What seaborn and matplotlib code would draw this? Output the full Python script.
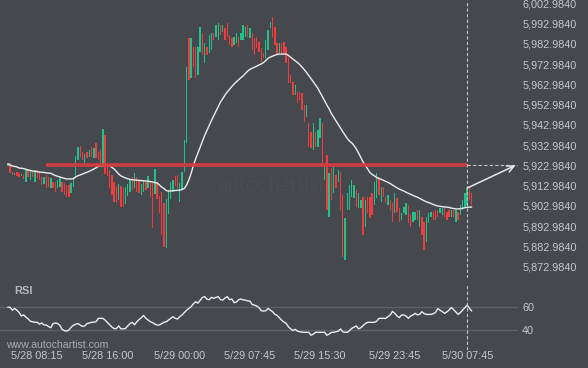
import numpy as np
import pandas as pd
import matplotlib
matplotlib.use("Agg")
import matplotlib.pyplot as plt
import seaborn as sns

# ---------------- data ----------------
opens = [
    5922.7, 5924.2, 5919.7, 5918.2, 5919.7, 5919.2, 5917.8, 5918.2, 5914.8, 5920.7,
    5915.8, 5920.2, 5914.8, 5920.7, 5920.2, 5917.3, 5913.8, 5918.2, 5917.3, 5911.8,
    5914.8, 5914.8, 5911.8, 5912.3, 5914.8, 5914.3, 5913.3, 5913.3, 5909.4, 5912.3,
    5916.8, 5925.7, 5932.6, 5929.6, 5924.2, 5929.6, 5927.1, 5932.1, 5926.6, 5934.1,
    5929.6, 5930.6, 5922.2, 5938.0, 5923.2, 5920.7, 5918.2, 5914.8, 5912.8, 5905.9,
    5912.8, 5911.8, 5903.9, 5907.9, 5909.9, 5917.3, 5911.8, 5917.3, 5915.8, 5908.4,
    5909.9, 5914.8, 5911.8, 5914.8, 5914.3, 5908.9, 5914.8, 5907.9, 5909.9, 5904.4,
    5882.2, 5899.0, 5906.4, 5909.9, 5917.8, 5918.2, 5904.9, 5910.8, 5919.7, 5934.1,
    5985.9, 5966.2, 5981.5, 5981.5, 5967.6, 5979.0, 5988.4, 5973.6, 5981.5, 5978.5,
    5980.0, 5988.4, 5986.4, 5984.9, 5992.4, 5988.9, 5990.9, 5993.3, 5987.4, 5985.9,
    5982.5, 5983.5, 5986.4, 5984.9, 5984.9, 5986.4, 5992.4, 5985.9, 5988.4, 5985.9,
    5986.4, 5983.9, 5981.0, 5978.5, 5976.0, 5980.0, 5990.9, 5996.3, 5991.4, 5983.5,
    5978.5, 5983.5, 5983.9, 5981.5, 5976.0, 5967.6, 5964.2, 5957.8, 5959.3, 5959.3,
    5958.8, 5952.8, 5946.9, 5943.9, 5939.5, 5930.6, 5939.5, 5932.1, 5936.5, 5943.9,
    5915.8, 5928.1, 5897.5, 5921.7, 5909.4, 5918.2, 5914.8, 5919.7, 5908.4, 5876.3,
    5901.0, 5901.0, 5907.4, 5906.9, 5910.8, 5902.0, 5902.0, 5907.4, 5892.6, 5907.4,
    5907.4, 5909.4, 5903.4, 5906.9, 5917.3, 5904.9, 5912.3, 5907.4, 5903.4, 5905.9,
    5904.4, 5899.5, 5906.9, 5902.0, 5896.0, 5899.5, 5898.5, 5903.4, 5898.5, 5895.0,
    5896.0, 5901.0, 5892.6, 5897.5, 5895.0, 5885.1, 5894.5, 5897.5, 5900.0, 5901.0,
    5901.0, 5899.5, 5898.5, 5902.4, 5900.0, 5901.0, 5897.5, 5901.0, 5895.0, 5900.0,
    5898.5, 5901.0, 5902.4, 5903.4, 5911.8, 5909.4,
]
closes = [
    5924.2, 5919.2, 5918.2, 5919.2, 5917.8, 5917.3, 5918.7, 5916.3, 5920.7, 5917.3,
    5920.7, 5917.3, 5920.7, 5916.8, 5915.8, 5913.3, 5917.3, 5911.8, 5912.3, 5916.8,
    5911.8, 5909.9, 5915.8, 5916.8, 5909.9, 5908.4, 5907.4, 5907.4, 5914.3, 5917.3,
    5927.6, 5932.1, 5927.1, 5925.7, 5928.6, 5926.6, 5930.6, 5927.1, 5931.6, 5926.6,
    5925.7, 5924.2, 5941.0, 5918.7, 5917.8, 5911.8, 5908.4, 5904.9, 5904.4, 5913.8,
    5902.4, 5902.4, 5912.3, 5913.8, 5916.3, 5910.8, 5919.2, 5909.9, 5909.4, 5913.8,
    5915.3, 5910.8, 5917.8, 5907.4, 5892.1, 5921.2, 5906.4, 5899.5, 5888.6, 5882.7,
    5906.4, 5910.8, 5914.8, 5915.8, 5912.8, 5911.8, 5914.3, 5919.7, 5935.5, 5971.6,
    5965.2, 5985.9, 5971.6, 5966.2, 5981.5, 5991.4, 5977.5, 5983.5, 5977.5, 5987.4,
    5988.4, 5984.9, 5992.4, 5993.3, 5987.4, 5992.4, 5984.9, 5986.4, 5982.5, 5981.5,
    5986.4, 5988.4, 5981.5, 5988.4, 5992.4, 5991.4, 5986.4, 5990.9, 5980.0, 5977.5,
    5981.0, 5979.0, 5974.1, 5976.0, 5984.9, 5989.9, 5993.8, 5986.4, 5982.5, 5977.5,
    5983.5, 5978.5, 5978.5, 5973.6, 5963.7, 5963.7, 5957.8, 5962.7, 5953.8, 5955.3,
    5950.4, 5944.4, 5952.8, 5932.1, 5931.6, 5943.9, 5932.1, 5940.5, 5946.4, 5922.2,
    5922.2, 5901.0, 5919.2, 5905.9, 5922.2, 5911.8, 5920.7, 5901.0, 5877.7, 5897.0,
    5909.4, 5913.3, 5915.8, 5913.3, 5902.4, 5909.4, 5905.9, 5888.6, 5905.9, 5899.5,
    5897.0, 5898.5, 5914.8, 5919.2, 5908.4, 5912.3, 5907.4, 5904.4, 5908.4, 5901.0,
    5895.0, 5909.4, 5900.0, 5895.0, 5899.5, 5902.4, 5904.4, 5894.5, 5892.6, 5900.0,
    5900.0, 5896.0, 5901.0, 5888.6, 5881.2, 5897.5, 5899.5, 5900.0, 5896.0, 5896.0,
    5897.5, 5902.0, 5902.0, 5897.5, 5896.0, 5897.5, 5901.0, 5897.5, 5901.0, 5896.0,
    5903.4, 5905.9, 5909.4, 5911.8, 5905.9, 5903.4,
]
moving_avg = [
    5923.7, 5923.2, 5922.7, 5922.5, 5922.2, 5921.7, 5921.6, 5921.4, 5921.1, 5920.7,
    5920.5, 5920.2, 5920.1, 5919.9, 5919.7, 5919.6, 5919.5, 5919.3, 5919.2, 5919.1,
    5918.5, 5918.0, 5917.6, 5917.3, 5916.9, 5916.6, 5916.3, 5916.3, 5916.3, 5916.4,
    5917.3, 5917.9, 5918.3, 5918.7, 5919.2, 5919.6, 5920.1, 5920.6, 5921.2, 5921.8,
    5922.5, 5922.7, 5922.9, 5923.1, 5923.2, 5922.7, 5922.0, 5921.2, 5920.0, 5918.7,
    5917.8, 5917.3, 5916.8, 5916.4, 5916.1, 5915.9, 5915.8, 5915.7, 5915.6, 5915.5,
    5915.4, 5915.3, 5915.2, 5915.0, 5914.8, 5914.5, 5914.3, 5913.3, 5912.3, 5911.6,
    5910.6, 5910.3, 5910.4, 5910.5, 5910.6, 5910.7, 5910.8, 5911.1, 5911.6, 5913.3,
    5915.8, 5919.0, 5923.0, 5926.2, 5929.1, 5932.1, 5934.8, 5937.8, 5940.3, 5942.7,
    5945.2, 5947.5, 5949.9, 5952.2, 5954.3, 5956.0, 5957.8, 5959.3, 5960.6, 5962.0,
    5963.2, 5964.3, 5965.3, 5966.3, 5967.2, 5968.4, 5969.6, 5970.4, 5971.0, 5971.5,
    5972.0, 5972.6, 5973.1, 5973.8, 5974.8, 5975.9, 5976.5, 5977.0, 5977.4, 5977.8,
    5978.0, 5978.0, 5978.0, 5978.0, 5977.3, 5976.4, 5975.5, 5974.7, 5973.8, 5972.8,
    5971.6, 5970.3, 5968.9, 5967.4, 5965.8, 5964.3, 5962.7, 5961.1, 5959.0, 5956.8,
    5954.8, 5952.8, 5950.9, 5948.6, 5946.8, 5944.9, 5943.2, 5941.5, 5939.7, 5938.0,
    5936.3, 5935.0, 5934.1, 5932.8, 5931.1, 5929.1, 5926.9, 5924.7, 5923.0, 5921.2,
    5919.5, 5918.5, 5917.8, 5917.0, 5916.5, 5916.1, 5915.6, 5915.1, 5914.6, 5914.0,
    5913.3, 5912.6, 5911.9, 5911.3, 5910.8, 5910.3, 5909.7, 5909.2, 5908.7, 5908.2,
    5907.7, 5907.3, 5906.7, 5906.1, 5905.5, 5905.0, 5904.6, 5904.2, 5903.7, 5903.3,
    5902.9, 5902.8, 5902.6, 5902.5, 5902.4, 5902.2, 5901.9, 5901.7, 5901.5, 5901.5,
    5901.6, 5901.8, 5902.1, 5902.3, 5902.4, 5902.4,
]
rsi = [
    59.5, 59.5, 57.0, 58.5, 57.0, 55.0, 52.0, 53.0, 51.0, 49.5,
    47.5, 47.0, 46.6, 46.6, 45.0, 46.0, 44.3, 44.3, 43.0, 42.0,
    45.5, 46.0, 45.5, 44.0, 40.5, 39.5, 39.0, 40.0, 42.5, 44.0,
    45.0, 45.5, 44.2, 43.0, 43.5, 45.5, 46.0, 46.6, 46.8, 47.1,
    50.0, 50.0, 50.0, 48.5, 46.5, 44.5, 42.5, 41.2, 41.2, 43.5,
    41.0, 41.0, 41.3, 43.5, 45.5, 46.6, 44.5, 47.0, 49.0, 50.5,
    52.5, 50.0, 48.5, 47.1, 46.3, 45.0, 44.3, 44.3, 45.5, 46.6,
    47.1, 48.5, 50.0, 51.4, 50.0, 49.4, 51.5, 52.9, 55.0, 57.0,
    58.5, 60.0, 62.5, 64.3, 63.0, 65.5, 68.0, 68.6, 66.5, 66.0,
    68.0, 67.2, 68.0, 68.6, 66.0, 65.7, 67.5, 68.6, 66.0, 66.6,
    63.5, 64.0, 66.0, 66.6, 65.8, 65.7, 64.9, 64.9, 61.8, 61.4,
    60.5, 59.2, 56.5, 56.3, 56.5, 58.5, 57.0, 55.7, 53.5, 52.5,
    50.5, 48.5, 46.8, 45.7, 42.8, 41.0, 39.5, 40.6, 39.0, 38.5,
    38.2, 38.0, 38.0, 38.0, 35.5, 36.5, 38.0, 38.0, 38.0, 38.0,
    38.0, 35.5, 36.5, 38.0, 38.0, 38.5, 39.0, 40.9, 38.5, 38.0,
    38.0, 39.5, 41.4, 42.5, 43.5, 41.0, 42.0, 43.7, 45.5, 46.6,
    46.6, 46.6, 46.6, 47.5, 50.0, 50.0, 50.0, 50.0, 51.5, 53.0,
    56.0, 54.3, 52.0, 50.6, 52.9, 52.9, 52.0, 50.0, 52.0, 52.9,
    54.3, 53.0, 53.5, 55.7, 54.0, 53.4, 53.4, 53.4, 54.0, 55.1,
    58.4, 57.0, 55.8, 54.3, 55.5, 57.2, 59.3, 57.5, 55.5, 53.4,
    55.0, 57.2, 59.2, 61.4, 58.6, 56.3,
]
time_labels = ["5/28 08:15", "5/28 16:00", "5/29 00:00", "5/29 07:45",
               "5/29 15:30", "5/29 23:45", "5/30 07:45"]
price_ticks = [5872.984, 5882.984, 5892.984, 5902.984, 5912.984, 5922.984, 5932.984,
               5942.984, 5952.984, 5962.984, 5972.984, 5982.984, 5992.984, 6002.984]
rsi_ticks = [40, 60]
level = 5922.984          # identified resistance level
signal_label = "5/30 07:45"

# ---------------- table ----------------
times = pd.date_range("2024-05-28 05:00", periods=len(closes), freq="15min")
df = pd.DataFrame({
    "t": [f"{t.month}/{t.day} {t:%H:%M}" for t in times],
    "open": opens, "close": closes, "ma": moving_avg, "rsi": rsi,
})
df["idx"] = np.arange(len(df))
df["up"] = df["close"] >= df["open"]
pos = {s: i for i, s in enumerate(df["t"])}
sig = pos[signal_label]

# ---------------- style ----------------
BG = "#45484d"
TXT = "#c6c8cb"
GREEN = "#1fc28a"
RED = "#ef3d3f"
sns.set_style("dark", {"axes.facecolor": BG, "figure.facecolor": BG})
plt.rcParams["font.family"] = ["Liberation Sans", "DejaVu Sans"]

W, H = 588, 368
fig = plt.figure(figsize=(W / 100, H / 100), dpi=100)
fig.patch.set_facecolor(BG)

xl = (-3.45, 225.45)
ax = fig.add_axes([0, 1 - 278 / H, 518 / W, 278 / H])
axr = fig.add_axes([0, 1 - 350 / H, 518 / W, 65 / H], sharex=ax)
for a in (ax, axr):
    a.set_facecolor(BG)
    for s in a.spines.values():
        s.set_visible(False)
    a.grid(False)

# watermark
ax.text(272 / W, 1 - 185 / H, "autochartist", transform=fig.transFigure,
        fontsize=15.5, color="#5d6065", ha="center", va="center",
        family=["Lato", "DejaVu Sans"], fontweight="light", zorder=0.5)

# candles
cols = np.where(df["up"], GREEN, RED)
ax.bar(df["idx"], df["close"] - df["open"], bottom=df["open"], width=0.62,
       color=cols, linewidth=0, zorder=2)

# moving average
sns.lineplot(data=df, x="idx", y="ma", ax=ax, color="#ececec", lw=1.0,
             zorder=3, legend=False)

# resistance level
ax.plot([17, sig], [level, level], color="#d93b3f", lw=2.6, zorder=4,
        solid_capstyle="butt", alpha=0.95)
ax.plot([sig, sig + 23], [level, level], color="#c4c4c4", lw=0.8,
        ls=(0, (3, 2)), zorder=4)
ax.annotate("", xy=(sig + 21.3, level), xytext=(sig, df["close"][sig]),
            arrowprops=dict(arrowstyle="->", color="#e8e8e8", lw=1.1,
                            mutation_scale=12, shrinkA=0, shrinkB=0), zorder=5)
ax.axvline(sig, color="#c4c4c4", lw=0.8, ls=(0, (3, 2)), zorder=4)

ax.set_xlim(*xl)
ax.set_ylim(6004.7 - 0.494 * 278, 6004.7)
ax.set_yticks(price_ticks)
ax.set_yticklabels([f"{v:,.4f}" for v in price_ticks])
ax.yaxis.tick_right()
ax.tick_params(axis="y", length=0, pad=3, labelsize=7.8, labelcolor=TXT)
ax.tick_params(axis="x", length=0, labelbottom=False)
ax.set_xlabel("")
ax.set_ylabel("")

# RSI pane
for v in rsi_ticks:
    axr.axhline(v, color="#5d6166", lw=1.0, zorder=1)
sns.lineplot(data=df, x="idx", y="rsi", ax=axr, color="#ececec", lw=1.0,
             zorder=3, legend=False)
axr.axvline(sig, color="#c4c4c4", lw=0.8, ls=(0, (3, 2)), zorder=4)
axr.set_ylim(22.83, 78.63)
axr.set_yticks(rsi_ticks)
axr.set_yticklabels([str(v) for v in rsi_ticks])
axr.yaxis.tick_right()
axr.tick_params(axis="y", length=0, pad=3, labelsize=7.8, labelcolor=TXT)
axr.set_xticks([pos[s] for s in time_labels])
axr.set_xticklabels(time_labels)
axr.tick_params(axis="x", length=0, pad=1, labelsize=7.8, labelcolor=TXT)
axr.set_xlim(*xl)
axr.set_xlabel("")
axr.set_ylabel("")

fig.text(14 / W, 1 - 291 / H, "RSI", fontsize=8, fontweight="bold",
         color="#b3b6b9", va="center", ha="left")
fig.text(6 / W, 1 - 345 / H, "www.autochartist.com", fontsize=7.6,
         color="#a9abae", va="center", ha="left")

fig.savefig("out.png", dpi=100, facecolor=BG)
